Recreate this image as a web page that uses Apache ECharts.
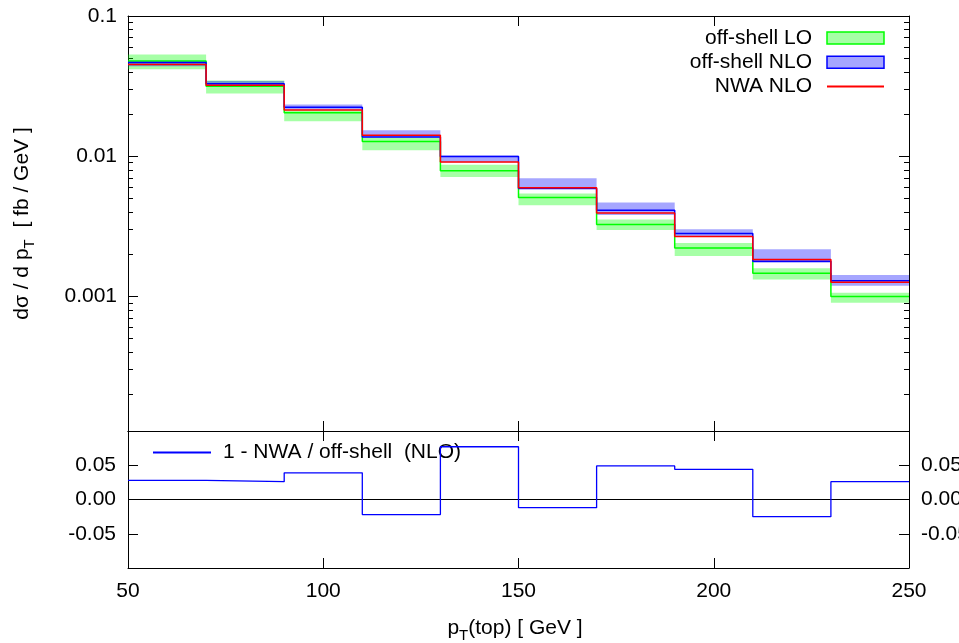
<!DOCTYPE html>
<html>
<head>
<meta charset="utf-8">
<script src="https://cdn.jsdelivr.net/npm/echarts@6/dist/echarts.min.js"></script>
<style>
  html, body { margin: 0; padding: 0; background: #fff; }
  #chart { width: 959px; height: 643px; }
</style>
</head>
<body>
<div id="chart"></div>
<script>
// Bin edges of the top-quark transverse momentum [GeV]
const binEdges = [50, 70, 90, 110, 130, 150, 170, 190, 210, 230, 250];

// dσ/dpT [fb/GeV] – off-shell LO: central value and scale-variation band
const loCentral = [0.0478, 0.0315, 0.0204, 0.01275, 0.00786, 0.00508, 0.00326, 0.00221, 0.00146, 0.00100];
const loLow     = [0.0417, 0.0280, 0.01776, 0.01104, 0.00712, 0.00447, 0.00297, 0.00194, 0.00132, 0.00090];
const loHigh    = [0.0531, 0.0346, 0.02128, 0.01359, 0.00870, 0.00542, 0.00353, 0.00240, 0.00159, 0.00106];

// dσ/dpT [fb/GeV] – off-shell NLO: central value and scale-variation band
const nloCentral = [0.0465, 0.0329, 0.0223, 0.01373, 0.00997, 0.00588, 0.00412, 0.00281, 0.001785, 0.001292];
const nloLow     = [0.0438, 0.0315, 0.02145, 0.01359, 0.00906, 0.00586, 0.00380, 0.00266, 0.00174, 0.00119];
const nloHigh    = [0.0476, 0.0344, 0.02339, 0.01532, 0.01012, 0.00697, 0.00468, 0.00301, 0.00217, 0.00142];

// dσ/dpT [fb/GeV] – narrow-width approximation at NLO
const nwaNlo = [0.0450, 0.0321, 0.02138, 0.01412, 0.00911, 0.00595, 0.00394, 0.00268, 0.00183, 0.00126];

// 1 - NWA / off-shell (NLO)
const ratio = [0.028, 0.026, 0.039, -0.022, 0.077, -0.012, 0.049, 0.044, -0.025, 0.026];

// Tick labels
const xTickLabels = ['50', '100', '150', '200', '250'];
const yMainLabels = { '-1': '0.1', '-2': '0.01', '-3': '0.001' };
const yRatioTicks = [-0.05, 0, 0.05];

const FONT = '"Liberation Sans", Arial, Helvetica, sans-serif';
const lg = v => Math.log10(v);
const Y_MIN = -3.96, Y_MAX = -1;

// decade and sub-decade tick positions of the logarithmic cross-section axis
const majorLog = [-3, -2, -1];
const minorLog = [];
for (let n = -4; n <= -2; n++) {
  for (let k = 2; k <= 9; k++) {
    const v = n + Math.log10(k);
    if (v > Y_MIN && v < Y_MAX) minorLog.push(v);
  }
}

function stepData(vals, f) {
  const d = vals.map((v, i) => [binEdges[i], f(v)]);
  d.push([binEdges[vals.length], f(vals[vals.length - 1])]);
  return d;
}
function bandData(lo, hi) {
  return lo.map((v, i) => [binEdges[i], binEdges[i + 1], lg(v), lg(hi[i])]);
}
function bandRenderer(fill) {
  return function (params, api) {
    const a = api.coord([api.value(0), api.value(3)]);
    const b = api.coord([api.value(1), api.value(2)]);
    return {
      type: 'rect',
      shape: { x: a[0], y: a[1], width: b[0] - a[0], height: b[1] - a[1] },
      style: { fill: fill }
    };
  };
}

const axisLine = { show: true, onZero: false, lineStyle: { color: '#000', width: 1 } };
const noLine = { show: false, onZero: false };
const labelText = { color: '#000', fontSize: 21, fontFamily: FONT };
const richName = {
  n: { fontSize: 21, lineHeight: 30, color: '#000', fontFamily: FONT },
  s: { fontSize: 15, lineHeight: 15, verticalAlign: 'bottom', color: '#000', fontFamily: FONT }
};

function xAxisDef(grid, pos, labels) {
  return {
    type: 'value', gridIndex: grid, position: pos, min: 50, max: 250, interval: 50,
    axisLine: axisLine,
    axisTick: { show: true, inside: true, length: 10, lineStyle: { color: '#000', width: 1 } },
    axisLabel: labels ? Object.assign({ show: true, margin: 13,
      formatter: v => xTickLabels[Math.round((v - 50) / 50)] }, labelText) : { show: false },
    splitLine: { show: false }
  };
}
function yMainDef(pos, ticks, len, withLine, withLabel) {
  return {
    type: 'value', gridIndex: 0, position: pos, min: Y_MIN, max: Y_MAX,
    axisLine: withLine ? axisLine : noLine,
    axisTick: { show: true, inside: true, length: len, customValues: ticks,
      lineStyle: { color: '#000', width: 1 } },
    axisLabel: withLabel ? Object.assign({ show: true, margin: 11, customValues: majorLog,
      formatter: v => yMainLabels[String(Math.round(v))] || '' }, labelText) : { show: false },
    splitLine: { show: false }
  };
}
function yRatioDef(pos) {
  return {
    type: 'value', gridIndex: 1, position: pos, min: -0.1, max: 0.1, interval: 0.05,
    axisLine: axisLine,
    axisTick: { show: true, inside: true, length: 10, customValues: yRatioTicks,
      lineStyle: { color: '#000', width: 1 } },
    axisLabel: Object.assign({ show: true, margin: 12, customValues: yRatioTicks,
      formatter: v => (Math.abs(v) < 1e-9 ? 0 : v).toFixed(2) }, labelText),
    splitLine: { show: false }
  };
}

const chart = echarts.init(document.getElementById('chart'), null, { renderer: 'canvas' });

const yMain = yMainDef('left', majorLog, 10, true, true);
yMain.name = '{n|dσ / d p}{s|T}{n|  [ fb / GeV ]}';
yMain.nameLocation = 'middle';
yMain.nameGap = 91;
yMain.nameTextStyle = { rich: richName };

const xRatio = xAxisDef(1, 'bottom', true);
xRatio.name = '{n|p}{s|T}{n|(top) [ GeV ]}';
xRatio.nameLocation = 'middle';
xRatio.nameGap = 45;
xRatio.nameTextStyle = { rich: richName, padding: [0, 7, 0, 0] };

chart.setOption({
  animation: false,
  backgroundColor: '#fff',
  textStyle: { fontFamily: FONT },
  grid: [
    { left: 128, top: 16, width: 781, height: 415, containLabel: false, outerBoundsMode: 'none' },
    { left: 128, top: 431, width: 781, height: 137, containLabel: false, outerBoundsMode: 'none' }
  ],
  xAxis: [
    xAxisDef(0, 'bottom', false),
    xAxisDef(0, 'top', false),
    xRatio,
    xAxisDef(1, 'top', false)
  ],
  yAxis: [
    yMain,
    yMainDef('left', minorLog, 5, false, false),
    yMainDef('right', majorLog, 10, true, false),
    yMainDef('right', minorLog, 5, false, false),
    yRatioDef('left'),
    yRatioDef('right')
  ],
  legend: [
    {
      orient: 'vertical', align: 'right', right: 74, top: 27.5, padding: 0,
      itemWidth: 57, itemHeight: 12, itemGap: 3.3, selectedMode: false,
      textStyle: { color: '#000', fontSize: 21, lineHeight: 20, fontFamily: FONT, padding: [0, 10, 0, 0] },
      data: [
        { name: 'off-shell LO', icon: 'rect',
          itemStyle: { color: 'rgba(0,255,0,0.35)', borderColor: '#00ff00', borderWidth: 1.5 } },
        { name: 'off-shell NLO', icon: 'rect',
          itemStyle: { color: 'rgba(0,0,255,0.35)', borderColor: '#0000ff', borderWidth: 1.5 } },
        { name: 'NWA NLO', itemStyle: { opacity: 0 } }
      ]
    },
    {
      orient: 'vertical', align: 'left', left: 152, top: 442, padding: 0,
      itemWidth: 58, itemHeight: 12, selectedMode: false,
      textStyle: { color: '#000', fontSize: 21, lineHeight: 20, fontFamily: FONT, padding: [0, 0, 0, 7] },
      data: [{ name: '1 - NWA / off-shell  (NLO)', itemStyle: { opacity: 0 } }]
    }
  ],
  series: [
    {
      name: 'off-shell LO', type: 'custom', xAxisIndex: 0, yAxisIndex: 0,
      data: bandData(loLow, loHigh), encode: { x: [0, 1], y: [2, 3] },
      renderItem: bandRenderer('rgba(0,255,0,0.35)'), itemStyle: { color: 'rgba(0,255,0,0.35)' },
      silent: true, z: 1
    },
    {
      name: 'off-shell NLO', type: 'custom', xAxisIndex: 0, yAxisIndex: 0,
      data: bandData(nloLow, nloHigh), encode: { x: [0, 1], y: [2, 3] },
      renderItem: bandRenderer('rgba(0,0,255,0.35)'), itemStyle: { color: 'rgba(0,0,255,0.35)' },
      silent: true, z: 2
    },
    {
      name: 'off-shell LO central', type: 'line', xAxisIndex: 0, yAxisIndex: 0, step: 'end',
      data: stepData(loCentral, lg), symbol: 'none', silent: true, z: 3,
      lineStyle: { color: '#00ff00', width: 1.5 }, itemStyle: { color: '#00ff00' }
    },
    {
      name: 'off-shell NLO central', type: 'line', xAxisIndex: 0, yAxisIndex: 0, step: 'end',
      data: stepData(nloCentral, lg), symbol: 'none', silent: true, z: 4,
      lineStyle: { color: '#0000ff', width: 1.5 }, itemStyle: { color: '#0000ff' }
    },
    {
      name: 'NWA NLO', type: 'line', xAxisIndex: 0, yAxisIndex: 0, step: 'end',
      data: stepData(nwaNlo, lg), symbol: 'none', silent: true, z: 5,
      lineStyle: { color: '#ff0000', width: 1.5 }, itemStyle: { color: '#ff0000' }
    },
    {
      name: '1 - NWA / off-shell  (NLO)', type: 'line', xAxisIndex: 2, yAxisIndex: 4, step: 'end',
      data: stepData(ratio, v => v), symbol: 'none', silent: true, z: 5,
      lineStyle: { color: '#0000ff', width: 1.3 }, itemStyle: { color: '#0000ff' },
      markLine: {
        silent: true, symbol: 'none', label: { show: false },
        lineStyle: { color: '#000', width: 1, type: 'solid' },
        data: [{ yAxis: 0 }]
      }
    }
  ]
});
</script>
</body>
</html>
